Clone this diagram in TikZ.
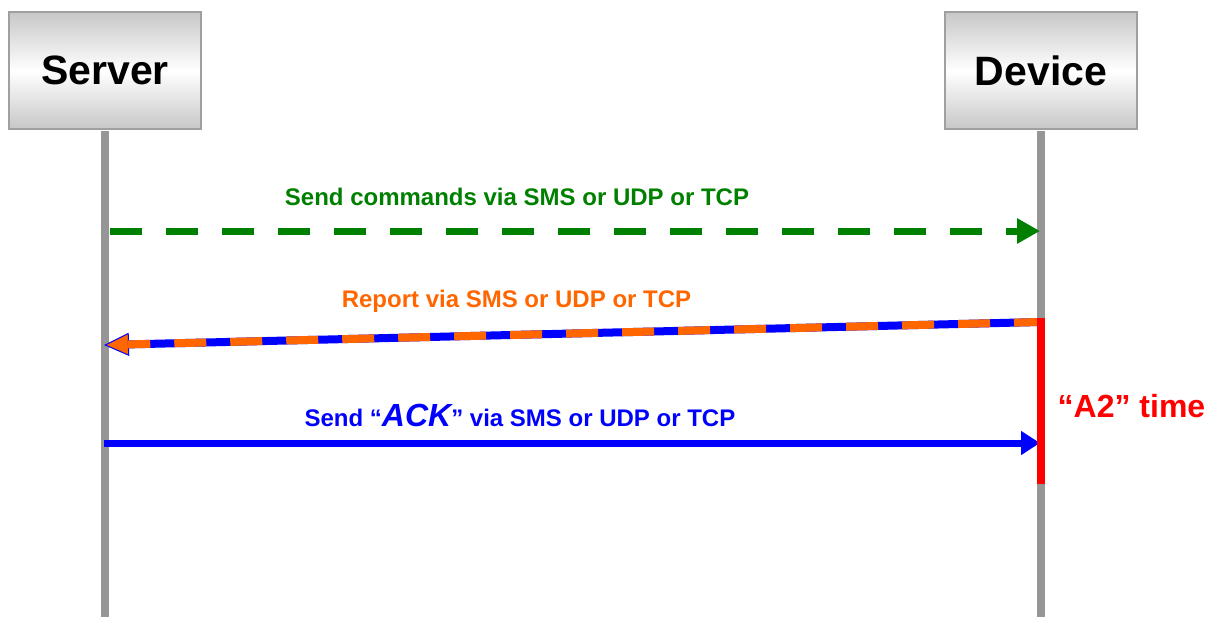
\documentclass[tikz,border=0pt]{standalone}
\usepackage{fontspec}
\setmainfont{Liberation Sans}
\usetikzlibrary{arrows.meta}
\definecolor{llgray}{RGB}{150,150,150}
\definecolor{bordergray}{RGB}{160,160,160}
\definecolor{msggreen}{RGB}{0,128,0}
\definecolor{msgorange}{RGB}{255,102,0}
\definecolor{msgblue}{RGB}{0,0,255}
\definecolor{msgred}{RGB}{255,0,0}
\begin{document}
\begin{tikzpicture}[x=0.75pt,y=-0.75pt,
  actor/.style={draw=bordergray, line width=1.5pt, top color=black!22, bottom color=black!22, middle color=white,
    minimum width=144pt, minimum height=87.75pt, inner sep=0pt, font=\fontsize{30.75}{36}\selectfont\bfseries},
  lifeline/.style={draw=llgray, line width=6pt},
  lbl/.style={font=\fontsize{18}{22}\selectfont\bfseries, anchor=base, inner sep=0pt},
  msgline/.style={line width=5.25pt}
]
\useasboundingbox (0,0) rectangle (1222,617);
\coordinate (bottom) at (0,617);
% actors
\node[actor] (server) at (105,70.5) {Server};
\node[actor] (device) at (1041,70.5) {Device};
% lifelines
\coordinate (serverEnd) at (server.south |- bottom);
\coordinate (deviceEnd) at (device.south |- bottom);
\draw[lifeline] ([yshift=-0.75pt]server.south) -- (serverEnd);
\draw[lifeline] ([yshift=-0.75pt]device.south) -- (deviceEnd);
% message end points
\coordinate (gS) at (110,231);
\coordinate (gD) at (1040,231);
\coordinate (oD) at (1040,322);
\coordinate (oS) at (104,345);
\coordinate (bS) at (104,443);
\coordinate (bD) at (1040,443);
\coordinate (rTop) at (1040.5,318);
\coordinate (rBot) at (1040.5,484);
% green dashed command
\draw[msgline, msggreen, dash pattern=on 24pt off 18pt, -{Triangle[length=17.25pt,width=18pt]}] (gS) -- (gD);
% orange/blue report
\draw[msgblue, line width=6pt, -{Triangle[length=18.75pt,width=17.25pt,fill=msgorange,line width=0.75pt]}] (oD) -- (oS);
\draw[msgorange, line width=6pt, dash pattern=on 24pt off 18pt, dash phase=4.5pt, shorten >=18pt] (oD) -- (oS);
% blue ACK
\draw[msgline, msgblue, -{Triangle[length=14.25pt,width=17.25pt]}] (bS) -- (bD);
% red A2 bar
\draw[msgred, line width=6pt] (rTop) -- (rBot);
% labels
\node[lbl, text=msggreen] (gl) at (517,205) {Send commands via SMS or UDP or TCP};
\node[lbl, text=msgorange] (ol) at (516.5,307) {Report via SMS or UDP or TCP};
\node[lbl, text=msgblue] (bl) at (520,426) {Send “{\fontsize{24}{28}\selectfont\itshape ACK}” via SMS or UDP or TCP};
\node[lbl, text=msgred, font=\fontsize{24}{28}\selectfont\bfseries] (al) at (1131.5,417) {“A2” time};
\end{tikzpicture}
\end{document}
